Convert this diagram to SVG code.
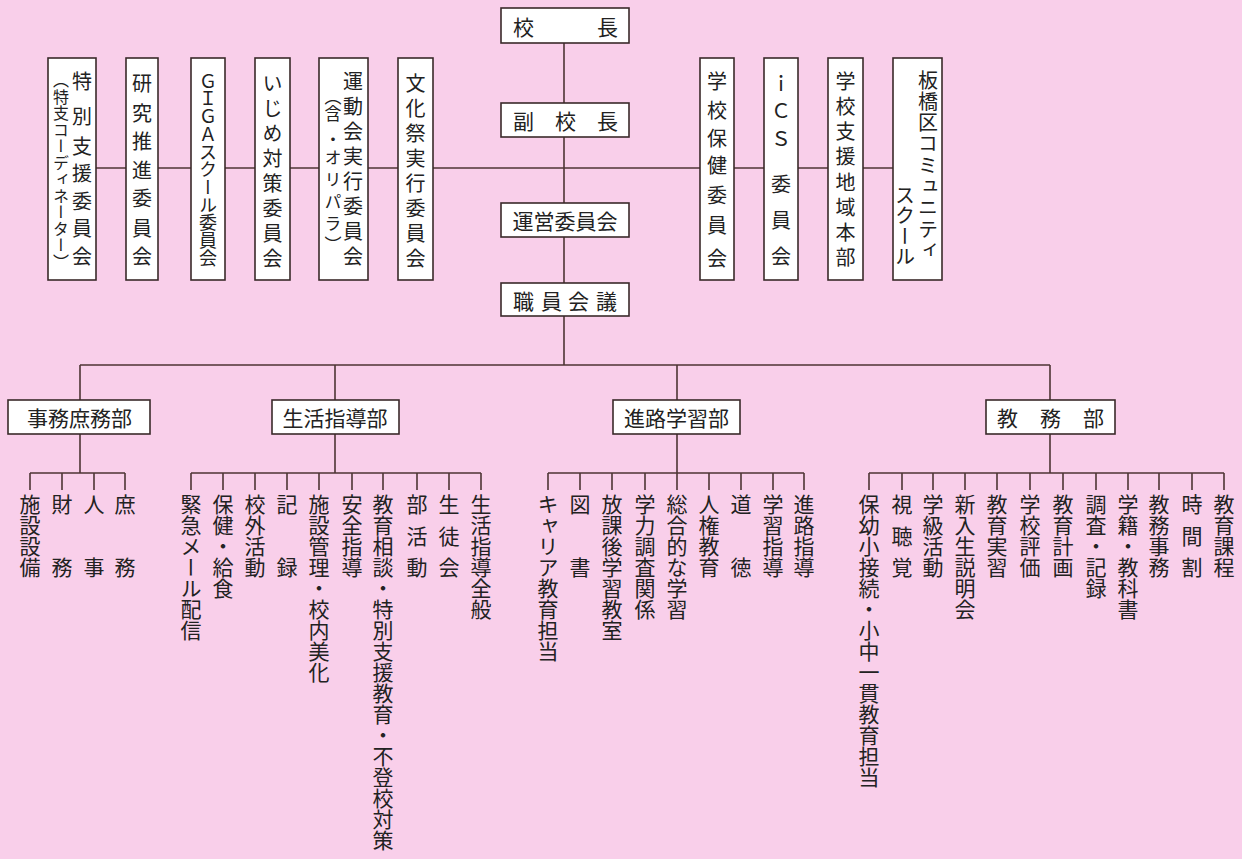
<svg xmlns="http://www.w3.org/2000/svg" width="1242" height="859" viewBox="0 0 1242 859">
<defs><style>
.bg{fill:#F9CFEA}
.box{fill:#fff;stroke:#3a2a2a;stroke-width:1.6}
.ln{stroke:#4e3535;stroke-width:1.6;fill:none}
.h{font-family:"Noto Sans CJK JP","Noto Sans CJK SC",sans-serif;font-size:21px;fill:#222;dominant-baseline:central}
.v{font-family:"Noto Sans CJK JP","Noto Sans CJK SC",sans-serif;font-size:20px;fill:#222;writing-mode:vertical-rl}
.b{font-size:21px}
.s{font-size:16px}
.m{font-size:17px}
.g{font-size:18px}
</style></defs>
<rect class="bg" x="0" y="0" width="1242" height="859"/>
<g id="connectors" class="ln">
<path d="M564 43V103M564 137V203M564 237V283M564 316V365"/>
<path d="M96 168H893"/>
<path d="M80 365H1050M80 365V400M335 365V400M677 365V400M1050 365V400"/>
<path d="M80 434V473M30 473H125M30 473V490M62 473V490M94 473V490M125 473V490"/>
<path d="M335 434V473M191 473H481M191 473V490M223 473V490M255 473V490M287 473V490M319 473V490M352 473V490M383 473V490M417 473V490M449 473V490M481 473V490"/>
<path d="M677 434V473M548 473H804M548 473V490M580 473V490M612 473V490M645 473V490M677 473V490M709 473V490M741 473V490M773 473V490M804 473V490"/>
<path d="M1050 434V473M869 473H1224M869 473V490M902 473V490M933 473V490M965 473V490M997 473V490M1030 473V490M1063 473V490M1096 473V490M1128 473V490M1159 473V490M1192 473V490M1224 473V490"/>
</g>
<g id="kocho"><rect class="box" x="501" y="8" width="128" height="35"/><text class="h" x="513 597" y="26">校長</text></g>
<g id="fukukocho"><rect class="box" x="501" y="103" width="128" height="34"/><text class="h" x="513 555 597" y="120">副校長</text></g>
<g id="uneiiinkai"><rect class="box" x="501" y="203" width="128" height="34"/><text class="h" x="565" y="220" text-anchor="middle">運営委員会</text></g>
<g id="shokuinkaigi"><rect class="box" x="501" y="283" width="128" height="33"/><text class="h" x="513 541 568 596" y="300">職員会議</text></g>

<g id="c-tokubetsu"><rect class="box" x="48" y="58" width="48" height="222"/>
<text class="v" x="82" y="71 106 136 163 191 218 246">特別支援委員会</text>
<text class="v s" x="61" y="72 88.5 105 121.5 138 154.5 171 187.5 204 220.5 237 253.5">（特支コーディネーター）</text></g>
<g id="c-kenkyu"><rect class="box" x="126" y="58" width="32" height="222"/>
<text class="v" x="142" y="73 103 131 160 188 218 246">研究推進委員会</text></g>
<g id="c-giga"><rect class="box" x="191" y="58" width="34" height="222"/>
<text class="v g" x="208" y="72 89.7 107.4 125.1 142.8 160.5 178.2 195.9 213.6 231.3 249">ＧＩＧＡスクール委員会</text></g>
<g id="c-ijime"><rect class="box" x="255" y="58" width="35" height="222"/>
<text class="v" x="272.5" y="73 98 123 148 173 198 223 248">いじめ対策委員会</text></g>
<g id="c-undokai"><rect class="box" x="319" y="58" width="49" height="222"/>
<text class="v" x="353" y="71 96 121 146 171 196 221 246">運動会実行委員会</text>
<text class="v m" x="333" y="88 105 131 149 171 193 215 236">（含・オリパラ）</text></g>
<g id="c-bunkasai"><rect class="box" x="398" y="58" width="35" height="222"/>
<text class="v" x="415.5" y="73 98 123 148 173 198 223 248">文化祭実行委員会</text></g>
<g id="c-hoken"><rect class="box" x="700" y="58" width="34" height="222"/>
<text class="v" x="717" y="71 100 128 155 185 215 248">学校保健委員会</text></g>
<g id="c-ics"><rect class="box" x="764" y="58" width="34" height="222"/>
<text class="v" x="781" y="73 101 129 174 210 246">ｉＣＳ委員会</text></g>
<g id="c-shien"><rect class="box" x="828" y="58" width="35" height="222"/>
<text class="v" x="845.5" y="71 96 121 146 172 197 222 247">学校支援地域本部</text></g>
<g id="c-community"><rect class="box" x="893" y="58" width="49" height="222"/>
<text class="v" x="928" y="70 91.3 112.6 133.9 155.2 176.5 197.8 219.1 240.4">板橋区コミュニティ</text>
<text class="v" x="905" y="185 205.5 226 246.5">スクール</text></g>

<g id="d-jimu"><rect class="box" x="8" y="400" width="142" height="34"/><text class="h" x="79.5" y="417" text-anchor="middle">事務庶務部</text></g>
<g id="d-seikatsu"><rect class="box" x="272" y="400" width="127" height="34"/><text class="h" x="335" y="417" text-anchor="middle">生活指導部</text></g>
<g id="d-shinro"><rect class="box" x="613" y="400" width="127" height="34"/><text class="h" x="676.5" y="417" text-anchor="middle">進路学習部</text></g>
<g id="d-kyomu"><rect class="box" x="986" y="400" width="129" height="34"/><text class="h" x="997 1040 1083" y="417">教務部</text></g>

<g id="j1"><text class="v b" x="30" y="494">施設設備</text></g>
<g id="j2"><text class="v b" x="62" y="494 557">財務</text></g>
<g id="j3"><text class="v b" x="94" y="494 557">人事</text></g>
<g id="j4"><text class="v b" x="125" y="494 557">庶務</text></g>

<g id="s1"><text class="v b" x="191" y="494">緊急メール配信</text></g>
<g id="s2"><text class="v b" x="223" y="494">保健・給食</text></g>
<g id="s3"><text class="v b" x="255" y="494">校外活動</text></g>
<g id="s4"><text class="v b" x="287" y="494 557">記録</text></g>
<g id="s5"><text class="v b" x="319" y="494">施設管理・校内美化</text></g>
<g id="s6"><text class="v b" x="352" y="494">安全指導</text></g>
<g id="s7"><text class="v b" x="383" y="494">教育相談・特別支援教育・不登校対策</text></g>
<g id="s8"><text class="v b" x="417" y="494 525.5 557">部活動</text></g>
<g id="s9"><text class="v b" x="449" y="494 525.5 557">生徒会</text></g>
<g id="s10"><text class="v b" x="481" y="494">生活指導全般</text></g>

<g id="r1"><text class="v b" x="548" y="494">キャリア教育担当</text></g>
<g id="r2"><text class="v b" x="580" y="494 557">図書</text></g>
<g id="r3"><text class="v b" x="612" y="494">放課後学習教室</text></g>
<g id="r4"><text class="v b" x="645" y="494">学力調査関係</text></g>
<g id="r5"><text class="v b" x="677" y="494">総合的な学習</text></g>
<g id="r6"><text class="v b" x="709" y="494">人権教育</text></g>
<g id="r7"><text class="v b" x="741" y="494 557">道徳</text></g>
<g id="r8"><text class="v b" x="773" y="494">学習指導</text></g>
<g id="r9"><text class="v b" x="804" y="494">進路指導</text></g>

<g id="k1"><text class="v b" x="869" y="494">保幼小接続・小中一貫教育担当</text></g>
<g id="k2"><text class="v b" x="902" y="494 525.5 557">視聴覚</text></g>
<g id="k3"><text class="v b" x="933" y="494">学級活動</text></g>
<g id="k4"><text class="v b" x="965" y="494">新入生説明会</text></g>
<g id="k5"><text class="v b" x="997" y="494">教育実習</text></g>
<g id="k6"><text class="v b" x="1030" y="494">学校評価</text></g>
<g id="k7"><text class="v b" x="1063" y="494">教育計画</text></g>
<g id="k8"><text class="v b" x="1096" y="494">調査・記録</text></g>
<g id="k9"><text class="v b" x="1128" y="494">学籍・教科書</text></g>
<g id="k10"><text class="v b" x="1159" y="494">教務事務</text></g>
<g id="k11"><text class="v b" x="1192" y="494 525.5 557">時間割</text></g>
<g id="k12"><text class="v b" x="1224" y="494">教育課程</text></g>
</svg>
